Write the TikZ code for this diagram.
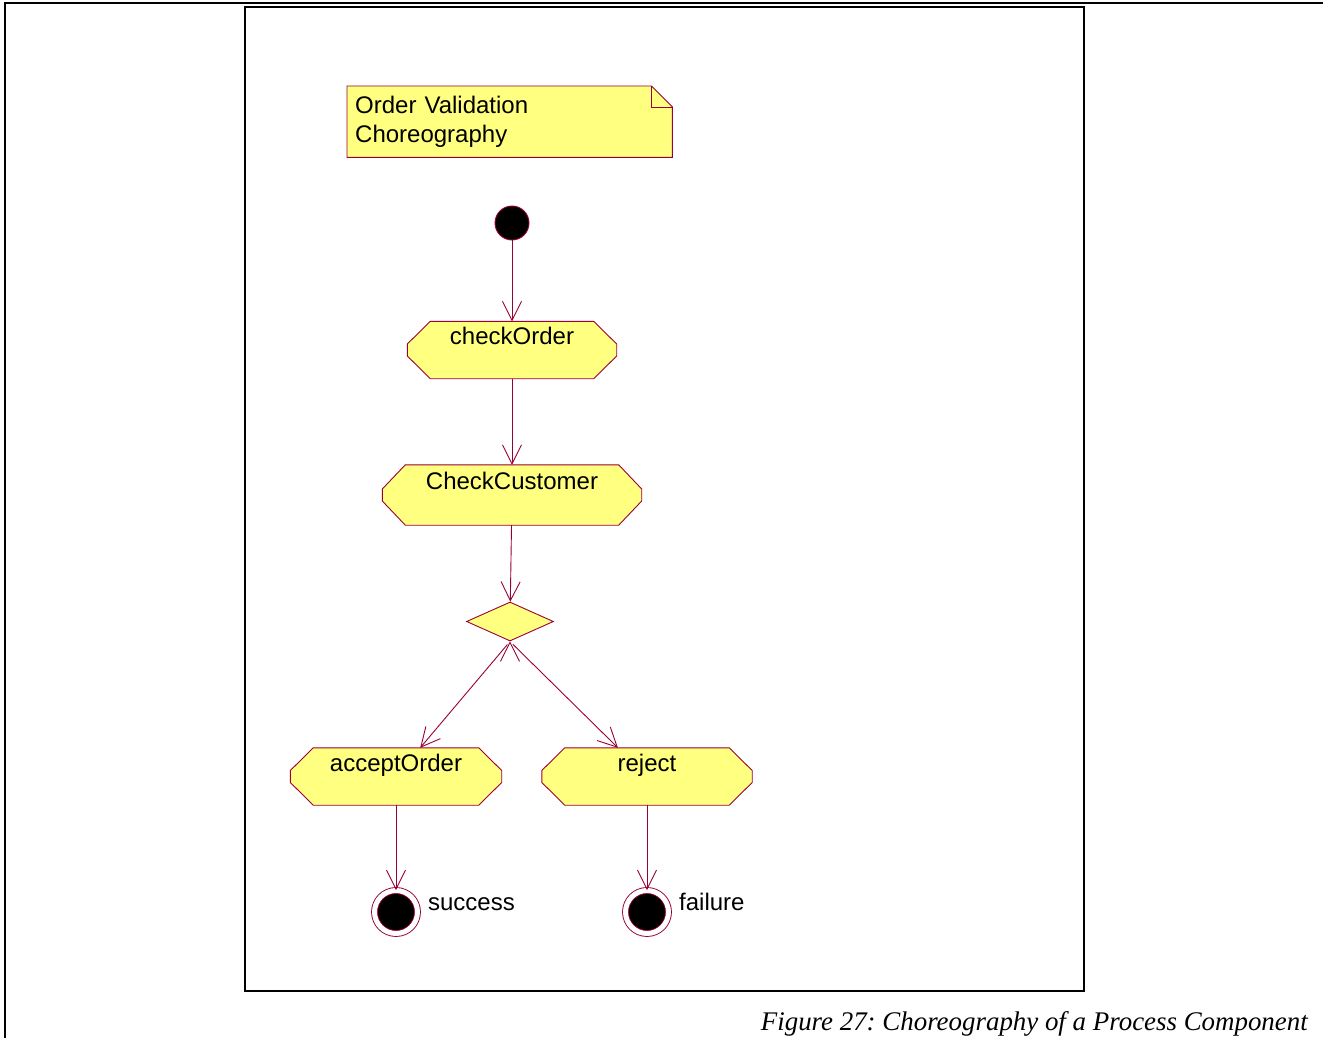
\documentclass[tikz,border=0pt]{standalone}
\usepackage{fontspec}
\setmainfont{Liberation Sans}
\newfontfamily\captionfont{Liberation Serif}
\usetikzlibrary{arrows.meta,shapes.geometric,backgrounds}
\definecolor{umlline}{HTML}{990033}
\definecolor{umlfill}{HTML}{FFFF80}
\frenchspacing

\begin{document}
\begin{tikzpicture}[x=1pt,y=-1pt,>={Straight Barb[length=19pt,width=19pt]},
    font=\fontsize{24}{29}\selectfont,
    shell/.style={draw=umlline,fill=umlfill,line width=0.9pt},
    activity/.style={rectangle,inner sep=0pt,minimum height=57pt,text height=18pt,text depth=29pt},
    note/.style={rectangle,anchor=north west,minimum width=325pt,minimum height=71pt,
      text width=309pt,inner xsep=8pt,align=left},
    start/.style={circle,draw=umlline,fill=black,line width=0.9pt,minimum size=34pt,inner sep=0pt},
    stop/.style={circle,draw=umlline,fill=black,line width=0.9pt,double=white,
      double distance=5pt,minimum size=43pt,inner sep=0pt},
    decision/.style={diamond,shell,minimum width=87pt,minimum height=39pt,inner sep=0pt},
    flow/.style={draw=umlline,line width=0.9pt},
    endlabel/.style={anchor=base west,inner sep=0pt,label distance=10pt,yshift=2pt}]
  \useasboundingbox (0,0) rectangle (1323,1038);
  \draw[line width=2pt] (5,1038) -- (5,3) -- (1323,3);
  \draw[line width=2pt] (245,7) rectangle (1084,991);

  \node[note]                          (N)  at (347,86)    {Order Validation\\Choreography};
  \node[start]                         (I)  at (512,223)   {};
  \node[activity,minimum width=209pt]  (co) at (512,350)   {checkOrder};
  \node[activity,minimum width=259pt,minimum height=60pt] (cc) at (512,495) {CheckCustomer};
  \node[decision]                      (D)  at (510,621.5) {};
  \node[activity,minimum width=211pt]  (ao) at (396,776.5) {acceptOrder};
  \node[activity,minimum width=210pt]  (rj) at (647,776.5) {reject};
  \node[stop,label={[endlabel]east:success}] (S) at (396,912) {};
  \node[stop,label={[endlabel]east:failure}] (F) at (647,912) {};
  \node[anchor=base east,inner sep=0pt,font=\captionfont\itshape\fontsize{26.9}{30}\selectfont] (cap)
    at (1308,1030) {Figure 27: Choreography of a Process Component};

  \begin{scope}[on background layer]
    \draw[shell] (N.north west) -- ([xshift=-21pt]N.north east) -- ([yshift=-21pt]N.north east)
      -- (N.south east) -- (N.south west) -- cycle;
    \draw[flow] ([xshift=-21pt]N.north east) |- ([yshift=-21pt]N.north east);
    \foreach \a in {co,cc,ao,rj}
      \draw[shell] ([xshift=23pt]\a.north west) -- ([xshift=-23pt]\a.north east)
        -- ([yshift=6pt]\a.east) -- ([yshift=-6pt]\a.east)
        -- ([xshift=-23pt]\a.south east) -- ([xshift=23pt]\a.south west)
        -- ([yshift=-6pt]\a.west) -- ([yshift=6pt]\a.west) -- cycle;
  \end{scope}

  \path[->,flow] (I)  edge (co)
        (co) edge (cc)
        (cc) edge (D)
        (D.south) edge [shorten <=4pt] (ao)
                  edge [shorten <=4pt] (rj)
        (ao) edge (S)
        (rj) edge (F);
\end{tikzpicture}
\end{document}
